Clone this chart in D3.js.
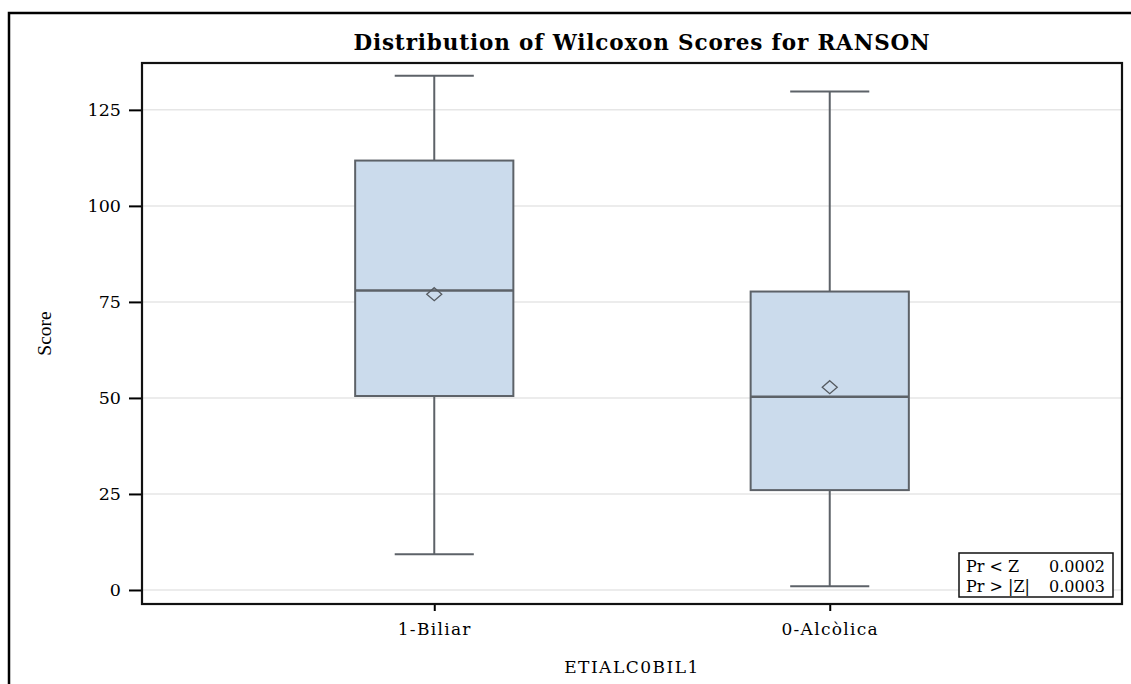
<!DOCTYPE html>
<html>
<head>
<meta charset="utf-8">
<script src="https://cdn.jsdelivr.net/npm/d3@7"></script>
<style>
  html, body { margin: 0; padding: 0; background: #fff; }
  svg { display: block; }
</style>
</head>
<body>
<svg id="chart" width="1131" height="684"></svg>
<script>
// Wilcoxon score distribution by group
const categories = ["1-Biliar", "0-Alcòlica"];
const whiskerLow  = [9.3, 1.0];
const quartile1   = [50.5, 26.0];
const medians     = [78.0, 50.3];
const quartile3   = [111.8, 77.7];
const whiskerHigh = [133.9, 129.8];
const means       = [77.0, 52.8];
const yTicks = [0, 25, 50, 75, 100, 125];
const testLabels = ["Pr < Z", "Pr > |Z|"];
const testValues = ["0.0002", "0.0003"];

const svg = d3.select("#chart");
const plot = { left: 142, top: 63, right: 1122, bottom: 604 };

const y = d3.scaleLinear().domain([-3.65, 137.2]).range([plot.bottom, plot.top]);
const x = d3.scalePoint().domain(categories).range([plot.left, plot.right]).padding(0.739);
const boxW = x.step() * 0.4;

// outer graph frame
svg.append("path")
  .attr("d", "M9,684 V13 H1131")
  .attr("fill", "none").attr("stroke", "#000").attr("stroke-width", 2.5);

// title
svg.append("text")
  .attr("x", 642).attr("y", 50)
  .attr("text-anchor", "middle")
  .attr("font-family", "'DejaVu Serif', serif")
  .attr("font-weight", "bold").attr("font-size", 21.5).attr("letter-spacing", 0.85)
  .text("Distribution of Wilcoxon Scores for RANSON");

// gridlines
svg.append("g").selectAll("line").data(yTicks).join("line")
  .attr("x1", plot.left).attr("x2", plot.right)
  .attr("y1", d => y(d)).attr("y2", d => y(d))
  .attr("stroke", "#e6e6e6").attr("stroke-width", 1.5);

const rows = categories.map((c, i) => ({
  c, lo: whiskerLow[i], q1: quartile1[i], med: medians[i],
  q3: quartile3[i], hi: whiskerHigh[i], mean: means[i]
}));

const boxStroke = "#5d6268";
const g = svg.append("g").selectAll("g").data(rows).join("g");

// whiskers
g.append("line")
  .attr("x1", d => x(d.c)).attr("x2", d => x(d.c))
  .attr("y1", d => y(d.q3)).attr("y2", d => y(d.hi))
  .attr("stroke", boxStroke).attr("stroke-width", 2);
g.append("line")
  .attr("x1", d => x(d.c)).attr("x2", d => x(d.c))
  .attr("y1", d => y(d.q1)).attr("y2", d => y(d.lo))
  .attr("stroke", boxStroke).attr("stroke-width", 2);
// caps
["hi", "lo"].forEach(k => {
  g.append("line")
    .attr("x1", d => x(d.c) - boxW / 4).attr("x2", d => x(d.c) + boxW / 4)
    .attr("y1", d => y(d[k])).attr("y2", d => y(d[k]))
    .attr("stroke", boxStroke).attr("stroke-width", 2);
});
// box
g.append("rect")
  .attr("x", d => x(d.c) - boxW / 2).attr("width", boxW)
  .attr("y", d => y(d.q3)).attr("height", d => y(d.q1) - y(d.q3))
  .attr("fill", "#cbdbec").attr("stroke", boxStroke).attr("stroke-width", 2);
// median
g.append("line")
  .attr("x1", d => x(d.c) - boxW / 2).attr("x2", d => x(d.c) + boxW / 2)
  .attr("y1", d => y(d.med)).attr("y2", d => y(d.med))
  .attr("stroke", boxStroke).attr("stroke-width", 2.5);
// mean marker
g.append("path")
  .attr("transform", d => `translate(${x(d.c)},${y(d.mean)})`)
  .attr("d", "M0,-6.5 L7.5,0 L0,6.5 L-7.5,0 Z")
  .attr("fill", "none").attr("stroke", "#555a60").attr("stroke-width", 1.3);

// axes
const tickFont = "'DejaVu Serif', serif";
const yAxis = svg.append("g")
  .attr("transform", `translate(${plot.left},0)`)
  .call(d3.axisLeft(y).tickValues(yTicks).tickSize(13).tickPadding(8));
yAxis.select(".domain").remove();
yAxis.selectAll("line").attr("stroke", "#000").attr("stroke-width", 2);
yAxis.selectAll("text").attr("font-family", tickFont).attr("font-size", 17.5).attr("fill", "#000");

const xAxis = svg.append("g")
  .attr("transform", `translate(0,${plot.bottom})`)
  .call(d3.axisBottom(x).tickSize(7).tickPadding(12));
xAxis.select(".domain").remove();
xAxis.selectAll("line").attr("stroke", "#000").attr("stroke-width", 2);
xAxis.selectAll("text").attr("font-family", tickFont).attr("font-size", 17)
  .attr("letter-spacing", 1.3).attr("fill", "#000");

// plot frame
svg.append("rect")
  .attr("x", plot.left).attr("y", plot.top)
  .attr("width", plot.right - plot.left).attr("height", plot.bottom - plot.top)
  .attr("fill", "none").attr("stroke", "#111").attr("stroke-width", 2.2);

// axis labels
svg.append("text")
  .attr("transform", `translate(51,${(plot.top + plot.bottom) / 2}) rotate(-90)`)
  .attr("text-anchor", "middle")
  .attr("font-family", "'Liberation Serif', serif").attr("font-size", 19.5)
  .text("Score");
svg.append("text")
  .attr("x", (plot.left + plot.right) / 2).attr("y", 673)
  .attr("text-anchor", "middle")
  .attr("font-family", tickFont).attr("font-size", 17).attr("letter-spacing", 1.5)
  .text("ETIALC0BIL1");

// test statistics inset
const inset = svg.append("g").attr("transform", "translate(959,553)");
inset.append("rect").attr("width", 154).attr("height", 44)
  .attr("fill", "#fff").attr("stroke", "#111").attr("stroke-width", 1.5);
testLabels.forEach((t, i) => {
  inset.append("text").attr("x", 7).attr("y", 19 + i * 20)
    .attr("font-family", tickFont).attr("font-size", 16)
    .text(t);
  inset.append("text").attr("x", 146).attr("y", 19 + i * 20)
    .attr("text-anchor", "end")
    .attr("font-family", tickFont).attr("font-size", 16)
    .text(testValues[i]);
});
</script>
</body>
</html>
